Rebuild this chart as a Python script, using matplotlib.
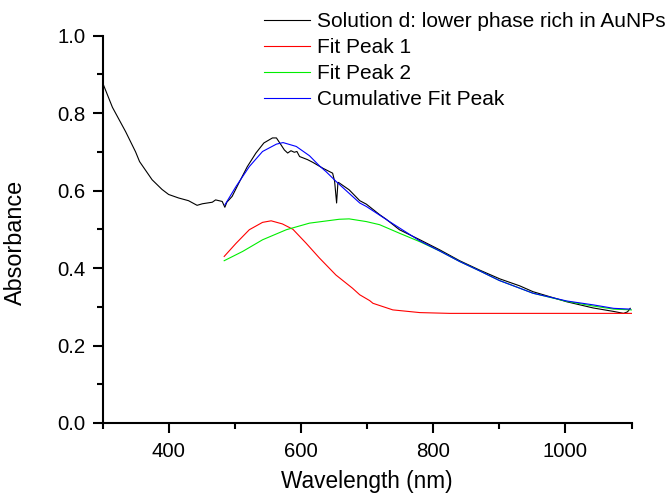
"""
UV-Vis absorbance of solution d (lower phase) with two-peak fit
"""
import numpy as np
import matplotlib as mpl
import matplotlib.pyplot as plt

plt.rcParams['font.family'] = ['Liberation Sans', 'DejaVu Sans']

### measured spectrum  [nm], [a.u.]
wl_meas = np.array([300, 315, 335, 350, 356, 375, 390, 400, 415, 430, 443, 451,
                    466, 471, 481, 485, 488, 496, 506, 519, 532, 544, 557, 563,
                    570, 575, 580, 585, 590, 594, 598, 610, 618, 633, 648, 651,
                    654, 656, 657, 673, 689, 699, 719, 729, 749, 780, 810, 840,
                    870, 901, 931, 951, 1002, 1042, 1073, 1088, 1094, 1098])
abs_meas = np.array([0.879, 0.815, 0.752, 0.700, 0.675, 0.628, 0.603, 0.590, 0.581,
                     0.574, 0.562, 0.566, 0.570, 0.576, 0.572, 0.557, 0.570, 0.585,
                     0.619, 0.662, 0.697, 0.723, 0.736, 0.736, 0.718, 0.705, 0.697,
                     0.703, 0.699, 0.701, 0.688, 0.680, 0.673, 0.658, 0.645, 0.624,
                     0.568, 0.621, 0.621, 0.602, 0.574, 0.565, 0.538, 0.526, 0.499,
                     0.473, 0.447, 0.419, 0.395, 0.372, 0.354, 0.339, 0.313, 0.297,
                     0.288, 0.283, 0.287, 0.296])

### fit results
wl_p1 = np.array([484, 502, 522, 542, 555, 572, 588, 608, 628, 653, 678, 689,
                  704, 709, 739, 780, 825, 1100])
abs_p1 = np.array([0.430, 0.464, 0.499, 0.518, 0.522, 0.514, 0.500, 0.464, 0.426,
                   0.382, 0.348, 0.331, 0.316, 0.309, 0.292, 0.285, 0.283, 0.283])

wl_p2 = np.array([484, 512, 542, 578, 613, 658, 673, 699, 719, 749, 780, 810,
                  840, 870, 900, 931, 951, 1002, 1042, 1073, 1100])
abs_p2 = np.array([0.419, 0.443, 0.473, 0.499, 0.516, 0.526, 0.527, 0.520, 0.512,
                   0.490, 0.468, 0.444, 0.417, 0.393, 0.368, 0.348, 0.335, 0.314,
                   0.302, 0.294, 0.292])

wl_cum = np.array([485, 502, 522, 542, 563, 573, 593, 613, 628, 638, 653, 689,
                   699, 734, 780, 810, 840, 870, 900, 931, 951, 1002, 1042, 1073, 1098])
abs_cum = np.array([0.563, 0.611, 0.662, 0.701, 0.720, 0.724, 0.714, 0.690, 0.664,
                    0.649, 0.624, 0.568, 0.559, 0.520, 0.470, 0.444, 0.417, 0.393,
                    0.368, 0.348, 0.335, 0.315, 0.305, 0.296, 0.294])


### plot
fig = plt.figure(figsize=(6.67, 4.95), dpi=100)
ax = fig.add_axes([0.1537, 0.1455, 0.7931, 0.7824])

ax.plot(wl_meas, abs_meas, c='black', lw=0.8, label='Solution d: lower phase rich in AuNPs')
ax.plot(wl_p1, abs_p1, c='#ff0000', lw=0.8, label='Fit Peak 1')
ax.plot(wl_p2, abs_p2, c='#00ee00', lw=0.8, label='Fit Peak 2')
ax.plot(wl_cum, abs_cum, c='#0000ff', lw=0.8, label='Cumulative Fit Peak')

ax.set_xlim(300, 1100)
ax.set_ylim(0, 1.0)
ax.set_xticks([400, 600, 800, 1000])
ax.set_yticks([0.0, 0.2, 0.4, 0.6, 0.8, 1.0])
ax.xaxis.set_minor_locator(mpl.ticker.MultipleLocator(100))
ax.yaxis.set_minor_locator(mpl.ticker.MultipleLocator(0.1))
ax.yaxis.set_major_formatter(mpl.ticker.StrMethodFormatter('{x:.1f}'))
ax.tick_params(which='major', direction='out', length=7, width=1.5, labelsize=14.7)
ax.tick_params(axis='x', which='major', pad=7)
ax.tick_params(axis='y', which='major', pad=5)
ax.tick_params(which='minor', direction='out', length=4, width=1.5)

for s in ['top', 'right']:
    ax.spines[s].set_visible(False)
for s in ['left', 'bottom']:
    ax.spines[s].set_linewidth(1.5)

ax.set_xlabel('Wavelength (nm)', fontsize=16.3, labelpad=6)
ax.set_ylabel('Absorbance', fontsize=16.8)
ax.yaxis.set_label_coords(-0.143, 0.465)

leg = ax.legend(loc='upper left', bbox_to_anchor=(264 / 667, 1 - 12 / 495),
                bbox_transform=fig.transFigure, frameon=False, fontsize=15,
                borderpad=0, borderaxespad=0, handlelength=2.2,
                handletextpad=0.34, labelspacing=0.34)

fig.savefig('out.png', dpi=100)
